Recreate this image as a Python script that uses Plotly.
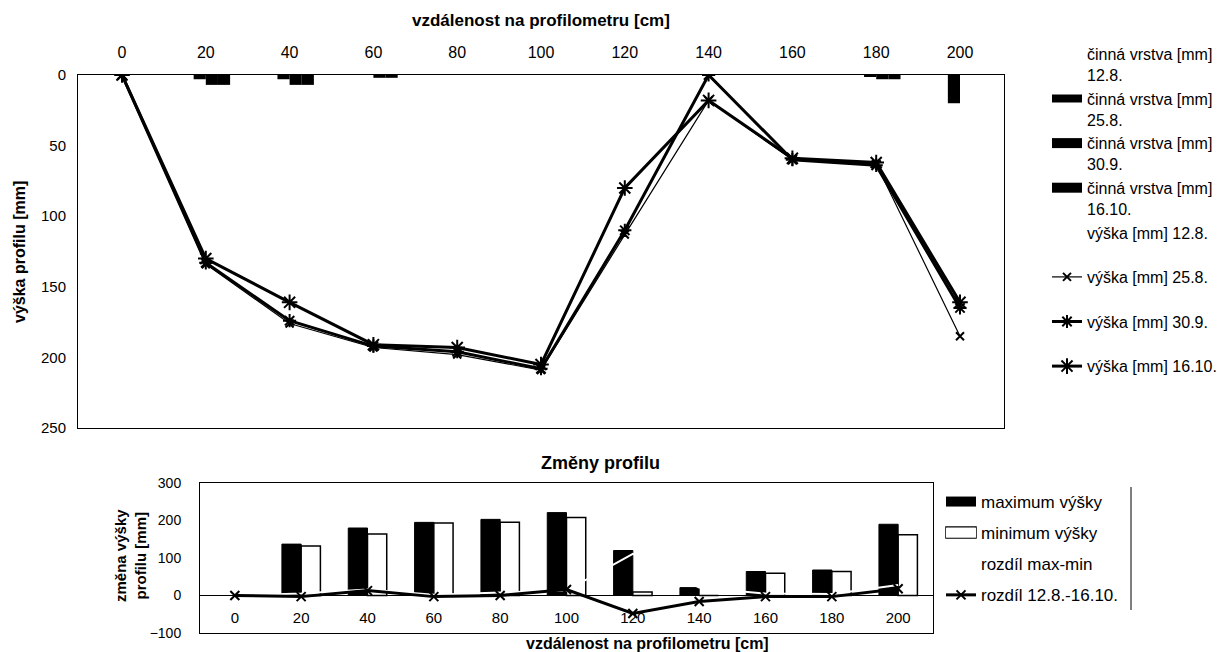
import plotly.graph_objects as go

W, H = 1217, 652
FONT = "Liberation Sans, Arial, sans-serif"

# ---------------- data ----------------
dist = [0, 20, 40, 60, 80, 100, 120, 140, 160, 180, 200]

# active layer (činná vrstva) [mm]
act_128 = [0, 0, 0, 0, 0, 0, 0, 0, 0, 0, 0]
act_258 = [0, 3, 3, 0, 0, 0, 0, 0, 0, 1, 20]
act_309 = [0, 7, 7, 2, 0, 0, 0, 0, 0, 3, 0]
act_1610 = [0, 7, 7, 2, 0, 0, 0, 0, 0, 3, 0]

# profile height (výška) [mm]
h_128 = [0, 128, 173, 190, 193, 221, 32, 2, 57, 61, 180]
h_258 = [0, 134, 176, 193, 198, 209, 113, 18, 60, 63, 185]
h_309 = [0, 133, 174, 192, 196, 208, 110, 0, 60, 64, 165]
h_1610 = [0, 130, 161, 191, 193, 205, 80, 18, 59, 62, 161]

# changes of profile (Změny profilu)
max_h = [0, 137, 180, 195, 203, 221, 120, 21, 64, 68, 190]
min_h = [0, 132, 164, 193, 195, 208, 9, 0, 59, 64, 162]
diff_maxmin = [0, 5, 16, 2, 8, 13, 111, 21, 5, 4, 28]
diff_128_1610 = [0, -3, 13, -3, 0, 16, -48, -16, -3, -3, 18]

tick_labels = ["0", "20", "40", "60", "80", "100", "120", "140", "160", "180", "200"]
top_y_ticks = [0, 50, 100, 150, 200, 250]
bot_y_ticks = [-100, 0, 100, 200, 300]


def px(x):
    return x / W


def py(y):
    return 1 - y / H


fig = go.Figure()

# ---------------- top chart ----------------
bar_styles = [
    ("činná vrstva [mm]<br>12.8.", act_128, "white", 10),
    ("činná vrstva [mm]<br>25.8.", act_258, "black", 8),
    ("činná vrstva [mm]<br>30.9.", act_309, "black", 12),
    ("činná vrstva [mm]<br>16.10.", act_1610, "black", 12),
]
for i, (name, vals, col, lw) in enumerate(bar_styles):
    fig.add_trace(go.Bar(
        x=dist, y=vals, name=name, xaxis="x", yaxis="y",
        marker=dict(color=col, line=dict(width=0)), showlegend=False,
    ))
# legend entries for the bar series (wide rectangles like the original)
for i, (name, vals, col, lw) in enumerate(bar_styles):
    fig.add_trace(go.Scatter(
        x=[None], y=[None], name=name, mode="lines", xaxis="x", yaxis="y",
        line=dict(color=col, width=lw), legend="legend", legendgroup="b%d" % i,
        hoverinfo="skip",
    ))

line_styles = [
    ("výška [mm] 12.8.<br>&nbsp;", h_128, dict(color="white", width=2),
     dict(symbol="circle", size=1, color="white", line=dict(width=0))),
    ("výška [mm] 25.8.<br>&nbsp;", h_258, dict(color="black", width=1.2),
     dict(symbol="x-thin-open", size=8, color="black", line=dict(width=2, color="black"))),
    ("výška [mm] 30.9.<br>&nbsp;", h_309, dict(color="black", width=3),
     dict(symbol="asterisk-open", size=11, color="black", line=dict(width=2, color="black"))),
    ("výška [mm] 16.10.<br>&nbsp;", h_1610, dict(color="black", width=3),
     dict(symbol="asterisk-open", size=13, color="black", line=dict(width=2, color="black"))),
]
for i, (name, vals, ln, mk) in enumerate(line_styles):
    fig.add_trace(go.Scatter(
        x=dist, y=vals, name=name, mode="lines+markers", xaxis="x", yaxis="y",
        line=ln, marker=mk, legend="legend", legendgroup="l%d" % i,
    ))

# ---------------- bottom chart ----------------
fig.add_trace(go.Bar(
    x=dist, y=max_h, name="maximum výšky", xaxis="x3", yaxis="y3",
    marker=dict(color="black", line=dict(color="black", width=1)), showlegend=False,
))
fig.add_trace(go.Bar(
    x=dist, y=min_h, name="minimum výšky", xaxis="x3", yaxis="y3",
    marker=dict(color="white", line=dict(color="black", width=1.5)), showlegend=False,
))
# legend entries for the bars (wide rectangles like the original)
fig.add_trace(go.Scatter(
    x=[None], y=[None], name="maximum výšky", mode="lines", xaxis="x3", yaxis="y3",
    line=dict(color="black", width=12), legend="legend2", legendgroup="m1",
    hoverinfo="skip",
))
fig.add_trace(go.Scatter(
    x=[None], y=[None], name="minimum výšky", mode="lines", xaxis="x3", yaxis="y3",
    line=dict(color="white", width=12), legend="legend2", legendgroup="m2",
    hoverinfo="skip",
))
fig.add_trace(go.Scatter(
    x=dist, y=diff_maxmin, name="rozdíl max-min", mode="lines", xaxis="x3", yaxis="y3",
    line=dict(color="white", width=2), legend="legend2", legendgroup="m3",
))
fig.add_trace(go.Scatter(
    x=dist, y=diff_128_1610, name="rozdíl 12.8.-16.10.", mode="lines+markers",
    xaxis="x4", yaxis="y3",
    line=dict(color="black", width=3),
    marker=dict(symbol="x-thin-open", size=9, color="black", line=dict(width=2, color="black")),
    legend="legend2", legendgroup="m4",
))

axis_common = dict(showgrid=False, zeroline=False, ticks="", linecolor="black", linewidth=1,
                   automargin=False, tickfont=dict(family=FONT, size=15, color="black"))


def ann(text, x, y, size, angle=0):
    return dict(text=text, x=px(x), y=py(y), xref="paper", yref="paper", showarrow=False,
                xanchor="center", yanchor="middle", textangle=angle,
                font=dict(family=FONT, size=size, color="black"))


fig.update_layout(
    width=W, height=H,
    margin=dict(l=0, r=0, t=0, b=0, autoexpand=False),
    paper_bgcolor="white", plot_bgcolor="white",
    font=dict(family=FONT, color="black"),
    barmode="group", bargap=0.42, bargroupgap=0,
    xaxis=dict(axis_common, domain=[px(78), px(1004)], range=[-10.5, 210.5], side="top",
               anchor="y", tickvals=dist, ticktext=tick_labels, showline=True, mirror=True,
               ticklabelstandoff=10, tickfont=dict(family=FONT, size=16, color="black")),
    yaxis=dict(axis_common, domain=[py(428), py(75)], range=[250, 0], anchor="x",
               tickvals=top_y_ticks, showline=True, mirror=True, ticklabelstandoff=8,
               tickfont=dict(family=FONT, size=15, color="black")),
    xaxis3=dict(axis_common, domain=[px(200), px(933)], range=[-10.5, 210.5], anchor="y3",
                showticklabels=False, showline=True, mirror=True),
    xaxis4=dict(axis_common, overlaying="x3", matches="x3", anchor="free", position=py(595),
                range=[-10.5, 210.5], tickvals=dist, ticktext=tick_labels, showline=False,
                ticklabelstandoff=12, tickfont=dict(family=FONT, size=15, color="black")),
    yaxis3=dict(axis_common, domain=[py(633), py(483)], range=[-100, 300], anchor="x3",
                tickvals=bot_y_ticks, showline=True, mirror=True, zeroline=True,
                zerolinecolor="black", zerolinewidth=1, ticklabelstandoff=15,
                tickfont=dict(family=FONT, size=14, color="black")),
    legend=dict(x=px(1047), y=py(37), xanchor="left", yanchor="top",
                font=dict(family=FONT, size=16, color="black"), valign="top",
                bgcolor="rgba(0,0,0,0)", tracegroupgap=0, itemwidth=30),
    legend2=dict(x=px(941), y=py(484), xanchor="left", yanchor="top",
                 font=dict(family=FONT, size=17, color="black"),
                 bgcolor="rgba(0,0,0,0)", itemwidth=30, tracegroupgap=6,
                 traceorder="grouped"),
    showlegend=True,
    annotations=[
        ann("<b>vzdálenost na profilometru [cm]</b>", 541, 20, 17),
        ann("<b>výška profilu [mm]</b>", 19, 252, 16, -90),
        ann("<b>Změny profilu</b>", 600, 463, 18),
        ann("<b>vzdálenost na profilometru [cm]</b>", 647, 643, 16),
        ann("<b>změna výšky<br>profilu [mm]</b>", 130, 556, 15, -90),
    ],
    shapes=[
        # right edge of the lower legend frame
        dict(type="line", xref="paper", yref="paper", x0=px(1131), x1=px(1131),
             y0=py(487), y1=py(610), line=dict(color="black", width=1)),
        # open rectangle legend key for "minimum výšky"
        dict(type="rect", xref="paper", yref="paper", x0=px(946), x1=px(976),
             y0=py(538), y1=py(527), line=dict(color="black", width=1.5),
             fillcolor="white"),
    ],
)

fig.write_html("out.html")
